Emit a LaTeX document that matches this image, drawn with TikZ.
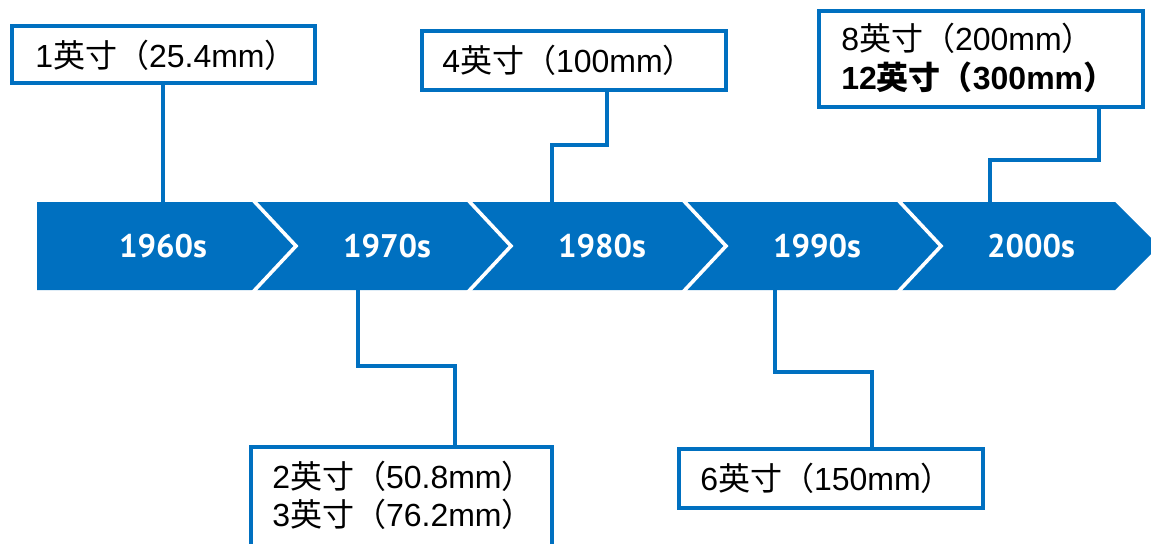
\documentclass[tikz,border=0pt]{standalone}
\usepackage{fontspec}
\setmainfont{Liberation Sans}
\newfontfamily\cjk{Noto Sans CJK SC}
\newfontfamily\yrfont{PT Sans}
\usetikzlibrary{fit}
\definecolor{tblue}{HTML}{0070C0}
\newcommand\cj[1]{{\cjk #1}}
\tikzset{
  box/.style={draw=tblue, line width=2.5pt, fill=white, inner sep=0pt, rectangle},
  conn/.style={draw=tblue, line width=2.5pt},
  chev/.style={draw=white, line width=2.7pt},
  yr/.style={text=white, font=\yrfont\bfseries\fontsize{24.5}{30}\selectfont, inner sep=0pt},
  txt/.style={anchor=base west, inner sep=0pt, font=\fontsize{24}{28}\selectfont, text=black}
}
\begin{document}
\begin{tikzpicture}[x=0.75pt,y=-0.75pt]
\useasboundingbox (0,0) rectangle (1151,543);
\clip (0,0) rectangle (1151,543);
% band
\fill[tblue] (37,202) -- (1115,202) -- (1159,246) -- (1115,290) -- (37,290) -- cycle;
\foreach \x in {252,467,682,897}{
  \draw[chev] (\x,199) -- ({\x+44},246) -- (\x,293);
}
\node[yr] (y1) at (163,246) {1960s};
\node[yr] (y2) at (387,246) {1970s};
\node[yr] (y3) at (602,246) {1980s};
\node[yr] (y4) at (817,246) {1990s};
\node[yr] (y5) at (1031,246) {2000s};
% coordinates on band edges
\coordinate (t1) at (163,202);
\coordinate (t3) at (552,202);
\coordinate (t5) at (990,202);
\coordinate (u2) at (358,290);
\coordinate (u4) at (775,290);
% boxes
\node[box, fit={(12,26) (315,83)}] (b1) {};
\node[box, fit={(422,31) (726,90)}] (b3) {};
\node[box, fit={(819,11) (1143,107)}] (b5) {};
\node[box, fit={(251,447) (552,560)}] (b2) {};
\node[box, fit={(679,449) (983,508)}] (b4) {};
% texts
\node[txt] (l1) at (35,67) {1\cj{英寸（}25.4mm\cj{）}};
\node[txt] (l3) at (442,72) {4\cj{英寸（}100mm\cj{）}};
\node[txt] (l5a) at (841,50) {8\cj{英寸（}200mm\cj{）}};
\node[txt, font=\fontsize{24}{28}\selectfont\bfseries] (l5b) at (841,89) {12\cj{英寸（}300mm\cj{）}};
\node[txt] (l2a) at (272,488) {2\cj{英寸（}50.8mm\cj{）}};
\node[txt] (l2b) at (272,526) {3\cj{英寸（}76.2mm\cj{）}};
\node[txt] (l4) at (700,490) {6\cj{英寸（}150mm\cj{）}};
% connectors
\coordinate (k3) at (607,0);
\coordinate (k5) at (1099,0);
\coordinate (k2) at (455,0);
\coordinate (k4) at (872,0);
\draw[conn] (b1.south -| t1) -- (t1);
\draw[conn] (b3.south -| k3) -- (607,145) -- (552,145) -- (t3);
\draw[conn] (b5.south -| k5) -- (1099,160) -- (990,160) -- (t5);
\draw[conn] (u2) -- (358,366) -- (455,366) -- (b2.north -| k2);
\draw[conn] (u4) -- (775,372) -- (872,372) -- (b4.north -| k4);
\end{tikzpicture}
\end{document}
